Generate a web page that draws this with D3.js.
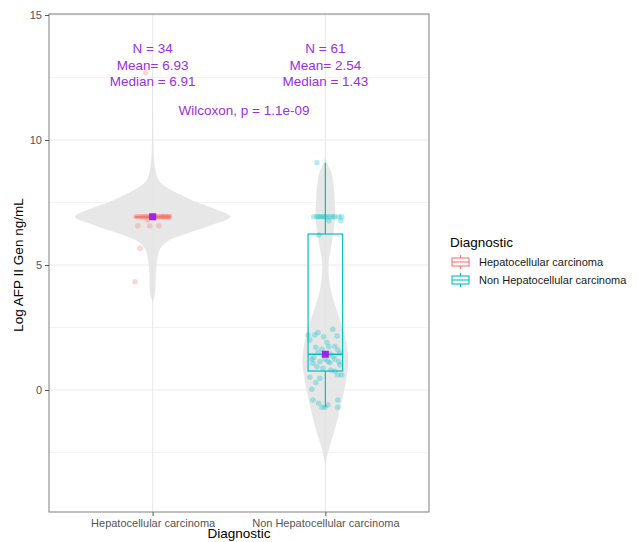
<!DOCTYPE html>
<html>
<head>
<meta charset="utf-8">
<script src="https://cdn.jsdelivr.net/npm/d3@7"></script>
<style>
  body { margin: 0; background: #fff; }
  svg { display: block; font-family: "Liberation Sans", Arial, sans-serif; }
</style>
</head>
<body>
<svg id="chart" width="637" height="542"></svg>
<script>
// ---- data ----
const categories = ["Hepatocellular carcinoma", "Non Hepatocellular carcinoma"];
const colors = ["#F8766D", "#00BFC4"];

// log AFP values + horizontal jitter (category units)
const hccValues = [12.7, 5.67, 4.33, 6.57, 6.57, 6.57, 6.8,
  6.93, 6.93, 6.93, 6.93, 6.93, 6.93, 6.93, 6.93, 6.93, 6.93, 6.93, 6.93, 6.93, 6.93,
  6.93, 6.93, 6.93, 6.93, 6.93, 6.93, 6.93, 6.93, 6.93, 6.93, 6.93, 6.93, 6.93];
const hccJitter = [-0.04, -0.073, -0.102, -0.086, -0.017, 0.036, -0.03,
  -0.098, -0.085, -0.071, -0.062, -0.055, -0.043, -0.036, -0.027, -0.019, -0.012, -0.004,
  0.003, 0.011, 0.018, 0.024, 0.033, 0.041, 0.048, 0.056, 0.063, 0.07, 0.077, 0.083, 0.089, 0.094, 0.098, 0.06];

const nonValues = [9.09,
  6.93, 6.93, 6.93, 6.93, 6.93, 6.93, 6.93, 6.93, 6.93, 6.93, 6.93, 6.93,
  6.77, 6.77, 6.2,
  2.43, 2.2, 2.2, 2.13, 2.16, 1.71, 1.63, 1.73, 1.6, 1.47, 1.23, 1.07, 1.13, 1.23, 1.09,
  1.23, 1.13, 0.93, 0.87, 1.0, 0.51, 0.47, 0.6, 0.6, 0.03, -0.4, -0.53, -0.69, -0.69,
  -0.4, -0.69, 1.43, 1.5, 0.8, 1.35, 2.0, 1.9, 1.3, 0.75, 1.75, 0.3, -0.6, 1.45, 1.15, 2.3];
const nonJitter = [-0.049,
  -0.067, -0.049, -0.038, -0.014, -0.003, 0.009, 0.026, 0.078, 0.095, -0.026, 0.055, 0.043,
  0.02, 0.09, -0.038,
  0.043, -0.1, -0.061, -0.009, 0.067, -0.055, -0.02, 0.02, 0.072, 0.084, -0.078, -0.072, -0.032, -0.003, 0.026,
  0.055, 0.078, -0.049, -0.014, 0.084, -0.09, -0.032, 0.072, 0.095, -0.078, -0.072, -0.038, -0.02, -0.003,
  0.072, 0.072, 0.003, -0.043, 0.032, 0.043, -0.09, 0.009, -0.067, 0.055, 0.055, -0.055, 0.014, 0.026, 0.014, -0.043];

// violin outlines: value, relative half width
const hccViolinY = [13.4, 12.7, 11, 10, 9.3, 8.8, 8.4, 8.13, 7.87, 7.53, 7.27, 6.93, 6.6, 6.27, 6.0, 5.67, 5.2, 4.67, 3.87, 3.5];
const hccViolinW = [0, 0.004, 0.006, 0.009, 0.016, 0.035, 0.077, 0.167, 0.32, 0.55, 0.78, 1.0, 0.76, 0.45, 0.22, 0.1, 0.058, 0.042, 0.032, 0];
const nonViolinY = [9.4, 9.1, 8.7, 8.2, 7.6, 6.9, 6.0, 5.0, 4.0, 3.1, 2.3, 1.2, 0.3, -0.6, -1.6, -2.3, -3.0];
const nonViolinW = [0, 0.02, 0.077, 0.105, 0.12, 0.125, 0.09, 0.04, 0.07, 0.155, 0.24, 0.295, 0.26, 0.2, 0.12, 0.05, 0];

// box stats: whisker low, q1, median, q3, whisker high
const boxLow = [6.93, -0.69];
const boxQ1 = [6.91, 0.76];
const boxMedian = [6.93, 1.43];
const boxQ3 = [6.94, 6.24];
const boxHigh = [6.93, 9.09];
const centerMarker = [6.93, 1.43];

const nLabels = ["N = 34", "N = 61"];
const meanLabels = ["Mean= 6.93", "Mean= 2.54"];
const medianLabels = ["Median = 6.91", "Median = 1.43"];
const testLabel = "Wilcoxon, p = 1.1e-09";

const yTicks = [0, 5, 10, 15];
const yMinor = [-2.5, 2.5, 7.5, 12.5];

// ---- layout ----
const panel = { left: 49, right: 429, top: 14, bottom: 512 };
const purple = "#9B30E0";

const svg = d3.select("#chart");
svg.append("rect").attr("width", 637).attr("height", 542).attr("fill", "#fff");

const y = d3.scaleLinear().domain([-4.88, 15.04]).range([panel.bottom, panel.top]);
const x = d3.scalePoint().domain(categories).range([panel.left, panel.right]).padding(0.6);
const step = x.step();

// grid
const grid = svg.append("g");
grid.selectAll(".minor").data(yMinor).join("line")
  .attr("x1", panel.left).attr("x2", panel.right)
  .attr("y1", d => y(d)).attr("y2", d => y(d))
  .attr("stroke", "#ebebeb").attr("stroke-width", 0.6);
grid.selectAll(".major").data(yTicks).join("line")
  .attr("x1", panel.left).attr("x2", panel.right)
  .attr("y1", d => y(d)).attr("y2", d => y(d))
  .attr("stroke", "#ebebeb").attr("stroke-width", 1.1);
grid.selectAll(".vmajor").data(categories).join("line")
  .attr("x1", d => x(d)).attr("x2", d => x(d))
  .attr("y1", panel.top).attr("y2", panel.bottom)
  .attr("stroke", "#ebebeb").attr("stroke-width", 1.1);

// violins
const violins = [
  { cat: categories[0], ys: hccViolinY, ws: hccViolinW },
  { cat: categories[1], ys: nonViolinY, ws: nonViolinW }
];
violins.forEach(v => {
  const pts = v.ys.map((d, i) => ({ v: d, w: v.ws[i] }));
  const cx = x(v.cat);
  const area = d3.area()
    .y(d => y(d.v))
    .x0(d => cx - d.w * 0.45 * step)
    .x1(d => cx + d.w * 0.45 * step)
    .curve(d3.curveCatmullRom.alpha(0.5));
  svg.append("path").datum(pts)
    .attr("d", area)
    .attr("fill", "#e3e3e3")
    .attr("fill-opacity", 0.85);
});

// boxplots
const boxG = svg.append("g");
categories.forEach((c, i) => {
  const cx = x(c), hw = 0.1 * step, col = colors[i];
  const g = boxG.append("g").attr("stroke", col).attr("stroke-width", 1.2).attr("fill", "none");
  g.append("line").attr("x1", cx).attr("x2", cx).attr("y1", y(boxQ3[i])).attr("y2", y(boxHigh[i]));
  g.append("line").attr("x1", cx).attr("x2", cx).attr("y1", y(boxQ1[i])).attr("y2", y(boxLow[i]));
  g.append("rect").attr("x", cx - hw).attr("width", 2 * hw)
    .attr("y", y(boxQ3[i])).attr("height", Math.max(0.5, y(boxQ1[i]) - y(boxQ3[i])));
  g.append("line").attr("x1", cx - hw).attr("x2", cx + hw)
    .attr("y1", y(boxMedian[i])).attr("y2", y(boxMedian[i])).attr("stroke-width", 1.6);
});

// jittered points
const points = [
  ...hccValues.map((v, i) => ({ c: 0, v, j: hccJitter[i] })),
  ...nonValues.map((v, i) => ({ c: 1, v, j: nonJitter[i] }))
];
svg.append("g").selectAll("circle").data(points).join("circle")
  .attr("cx", d => x(categories[d.c]) + d.j * step)
  .attr("cy", d => y(d.v))
  .attr("r", 2.8)
  .attr("fill", d => colors[d.c])
  .attr("fill-opacity", 0.3);

// centre markers
svg.append("g").selectAll("rect").data(centerMarker).join("rect")
  .attr("x", (d, i) => x(categories[i]) - 3.5)
  .attr("y", d => y(d) - 3.5)
  .attr("width", 7).attr("height", 7)
  .attr("fill", "#A020F0");

// stat labels
const lab = svg.append("g").attr("fill", purple).attr("font-size", 13.5).attr("text-anchor", "middle");
categories.forEach((c, i) => {
  [nLabels[i], meanLabels[i], medianLabels[i]].forEach((t, k) => {
    lab.append("text").attr("x", x(c)).attr("y", 53 + k * 16.7).text(t);
  });
});
lab.append("text").attr("x", (x(categories[0]) + x(categories[1])) / 2 + 5).attr("y", 115).text(testLabel);

// panel border
svg.append("rect")
  .attr("x", panel.left).attr("y", panel.top)
  .attr("width", panel.right - panel.left).attr("height", panel.bottom - panel.top)
  .attr("fill", "none").attr("stroke", "#8a8a8a").attr("stroke-width", 1.1);

// axes
const yAxis = svg.append("g").attr("transform", `translate(${panel.left},0)`)
  .call(d3.axisLeft(y).tickValues(yTicks).tickSize(4).tickPadding(3));
const xAxis = svg.append("g").attr("transform", `translate(0,${panel.bottom})`)
  .call(d3.axisBottom(x).tickSize(4).tickPadding(3));
[yAxis, xAxis].forEach(a => {
  a.select(".domain").remove();
  a.selectAll(".tick line").attr("stroke", "#555");
  a.selectAll(".tick text").attr("fill", "#555").attr("font-size", 11)
    .attr("font-family", "Liberation Sans, Arial, sans-serif");
});

// axis titles
svg.append("text")
  .attr("transform", `translate(23,${(panel.top + panel.bottom) / 2 + 2}) rotate(-90)`)
  .attr("text-anchor", "middle").attr("font-size", 13.5).attr("fill", "#000")
  .text("Log AFP II Gen ng/mL");
svg.append("text")
  .attr("x", (panel.left + panel.right) / 2).attr("y", 538)
  .attr("text-anchor", "middle").attr("font-size", 13.5).attr("fill", "#000")
  .text("Diagnostic");

// legend
const leg = svg.append("g").attr("transform", "translate(450,0)");
leg.append("text").attr("x", 0).attr("y", 247).attr("font-size", 13.5).text("Diagnostic");
categories.forEach((c, i) => {
  const cy = 262 + i * 18;
  const k = leg.append("g").attr("stroke", colors[i]).attr("stroke-width", 1.1).attr("fill", "none");
  k.append("rect").attr("x", 2).attr("y", cy - 4).attr("width", 17).attr("height", 8);
  k.append("line").attr("x1", 2).attr("x2", 19).attr("y1", cy).attr("y2", cy);
  k.append("line").attr("x1", 10.5).attr("x2", 10.5).attr("y1", cy - 7).attr("y2", cy - 4);
  k.append("line").attr("x1", 10.5).attr("x2", 10.5).attr("y1", cy + 4).attr("y2", cy + 7);
  leg.append("text").attr("x", 29).attr("y", cy + 4).attr("font-size", 11).attr("fill", "#1a1a1a").text(c);
});
</script>
</body>
</html>
